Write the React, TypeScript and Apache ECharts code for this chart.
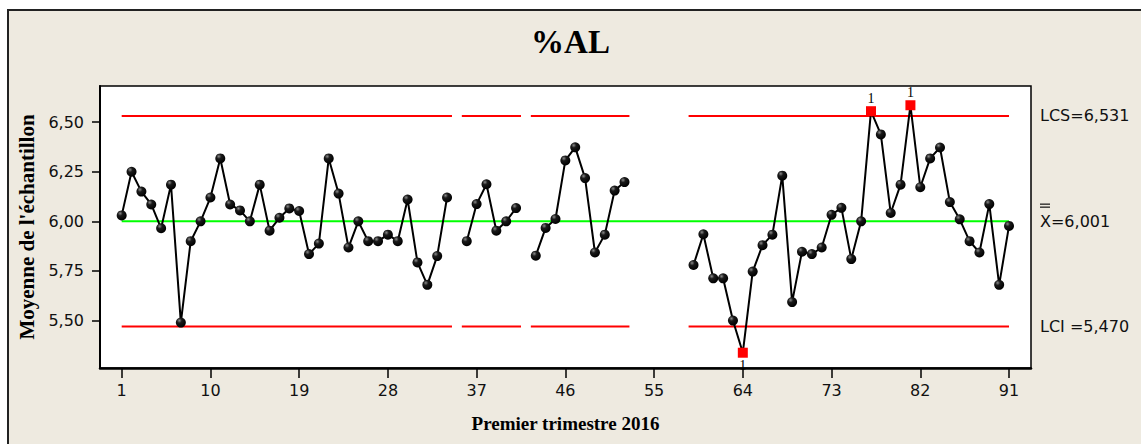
import React, { useEffect, useRef } from "react";
import * as echarts from "echarts";

// Sample numbers (x) and subgroup means (y); null = missing sample
const sampleNumbers: number[] = [
  1, 2, 3, 4, 5, 6, 7, 8, 9, 10, 11, 12, 13, 14, 15, 16, 17, 18, 19, 20,
  21, 22, 23, 24, 25, 26, 27, 28, 29, 30, 31, 32, 33, 34, 35, 36, 37, 38, 39, 40,
  41, 42, 43, 44, 45, 46, 47, 48, 49, 50, 51, 52, 53, 54, 55, 56, 57, 58, 59, 60,
  61, 62, 63, 64, 65, 66, 67, 68, 69, 70, 71, 72, 73, 74, 75, 76, 77, 78, 79, 80,
  81, 82, 83, 84, 85, 86, 87, 88, 89, 90, 91,
];
const sampleMeans: (number | null)[] = [
  6.03, 6.25, 6.15, 6.085, 5.965, 6.185, 5.49, 5.9, 6.0, 6.12,
  6.317, 6.085, 6.055, 6.0, 6.185, 5.953, 6.018, 6.065, 6.052, 5.835,
  5.888, 6.317, 6.14, 5.868, 6.0, 5.9, 5.9, 5.933, 5.9, 6.11,
  5.793, 5.68, 5.825, 6.12, null, 5.9, 6.087, 6.187, 5.953, 6.0,
  6.067, null, 5.827, 5.967, 6.012, 6.307, 6.373, 6.218, 5.843, 5.933,
  6.155, 6.198, null, null, null, null, null, null, 5.78, 5.935,
  5.713, 5.713, 5.5, 5.338, 5.747, 5.88, 5.933, 6.23, 5.593, 5.847,
  5.835, 5.868, 6.033, 6.068, 5.81, 6.0, 6.555, 6.438, 6.042, 6.185,
  6.585, 6.172, 6.317, 6.372, 6.097, 6.01, 5.9, 5.843, 6.087, 5.68,
  5.977,
];
const UCL = 6.531;
const CENTER = 6.001;
const LCL = 5.47;
const xTickValues: number[] = [1, 10, 19, 28, 37, 46, 55, 64, 73, 82, 91];
const yTickValues: number[] = [5.5, 5.75, 6.0, 6.25, 6.5];

const TITLE = "%AL";
const X_TITLE = "Premier trimestre 2016";
const Y_TITLE = "Moyenne de l'échantillon";

const fmt = (v: number, d: number) => v.toFixed(d).replace(".", ",");

export default function App() {
  const ref = useRef<HTMLDivElement>(null);

  useEffect(() => {
    document.body.style.margin = "0";
    if (!ref.current) return;
    const chart = echarts.init(ref.current, undefined, { renderer: "svg" });

    const first = sampleNumbers[0];
    const last = sampleNumbers[sampleNumbers.length - 1];

    // Runs of consecutive non-missing samples -> control limit segments
    const runs: [number, number][] = [];
    let start: number | null = null;
    sampleNumbers.forEach((n, i) => {
      const v = sampleMeans[i];
      if (v !== null && start === null) start = n;
      if (v === null && start !== null) {
        runs.push([start, sampleNumbers[i - 1]]);
        start = null;
      }
    });
    if (start !== null) runs.push([start, last]);

    const limitData = (level: number) => {
      const out: any[] = [];
      runs.forEach(([a, b], k) => {
        out.push([Math.max(first, a - 0.5), level]);
        out.push([Math.min(last, b + 0.5), level]);
        if (k < runs.length - 1) out.push([b + 0.7, "-"]);
      });
      return out;
    };

    const dot = new echarts.graphic.RadialGradient(0.35, 0.3, 0.7, [
      { offset: 0, color: "#8a8a8a" },
      { offset: 0.35, color: "#1a1a1a" },
      { offset: 1, color: "#000000" },
    ]);

    const flagLabel = {
      fontFamily: "Liberation Serif",
      fontSize: 14,
      color: "#000",
    };

    const meanData = sampleNumbers.map((n, i) => {
      const v = sampleMeans[i];
      if (v === null) return [n, "-"];
      if (v > UCL || v < LCL) {
        return {
          value: [n, v],
          symbol: "rect",
          symbolSize: 10,
          itemStyle: { color: "#ff0000" },
          label: {
            show: true,
            formatter: "1",
            position: v > UCL ? "top" : "bottom",
            distance: 1,
            ...flagLabel,
          },
        };
      }
      return [n, v];
    });

    const gridLeft = 100;
    const gridTop = 86;
    const gridWidth = 931;
    const gridHeight = 282;

    const option: any = {
      animation: false,
      backgroundColor: "transparent",
      title: {
        text: TITLE,
        left: gridLeft + gridWidth / 2,
        textAlign: "center",
        top: 20,
        textStyle: {
          fontFamily: "Liberation Serif",
          fontWeight: "bold",
          fontSize: 33,
          color: "#000",
        },
      },
      grid: {
        left: gridLeft,
        top: gridTop,
        width: gridWidth,
        height: gridHeight,
        show: true,
        backgroundColor: "#ffffff",
        borderColor: "#000",
        borderWidth: 1.5,
        containLabel: false,
      },
      xAxis: {
        type: "value",
        min: -1.2,
        max: 93.23,
        name: X_TITLE,
        nameLocation: "middle",
        nameGap: 46,
        nameTextStyle: {
          fontFamily: "Liberation Serif",
          fontWeight: "bold",
          fontSize: 19,
          color: "#000",
        },
        axisLine: { show: true, onZero: false, lineStyle: { color: "#000", width: 2.5 } },
        axisTick: {
          show: true,
          length: 10,
          customValues: xTickValues,
          lineStyle: { color: "#000", width: 1.5 },
        },
        axisLabel: {
          customValues: xTickValues,
          margin: 14,
          fontFamily: "DejaVu Sans",
          fontSize: 16,
          color: "#111",
          formatter: (v: number) => String(v),
        },
        splitLine: { show: false },
      },
      yAxis: {
        type: "value",
        min: 5.261,
        max: 6.682,
        name: Y_TITLE,
        nameLocation: "middle",
        nameGap: 60,
        nameRotate: 90,
        nameTextStyle: {
          fontFamily: "Liberation Serif",
          fontWeight: "bold",
          fontSize: 21,
          color: "#000",
        },
        axisLine: { show: true, onZero: false, lineStyle: { color: "#000", width: 2 } },
        axisTick: {
          show: true,
          length: 8,
          customValues: yTickValues,
          lineStyle: { color: "#000", width: 1.5 },
        },
        axisLabel: {
          customValues: yTickValues,
          margin: 16,
          fontFamily: "DejaVu Sans",
          fontSize: 16,
          color: "#111",
          formatter: (v: number) => fmt(v, 2),
        },
        splitLine: { show: false },
      },
      series: [
        {
          name: "LCS",
          type: "line",
          data: limitData(UCL),
          symbol: "none",
          silent: true,
          connectNulls: false,
          lineStyle: { color: "#ff0000", width: 2 },
          z: 1,
        },
        {
          name: "LCI",
          type: "line",
          data: limitData(LCL),
          symbol: "none",
          silent: true,
          connectNulls: false,
          lineStyle: { color: "#ff0000", width: 2 },
          z: 1,
        },
        {
          name: "Moyenne",
          type: "line",
          data: [
            [first, CENTER],
            [last, CENTER],
          ],
          symbol: "none",
          silent: true,
          lineStyle: { color: "#00ff00", width: 2 },
          z: 1,
        },
        {
          name: "Moyennes",
          type: "line",
          data: meanData,
          connectNulls: false,
          symbol: "circle",
          symbolSize: 10,
          showAllSymbol: true,
          lineStyle: { color: "#000", width: 2 },
          itemStyle: { color: dot },
          label: { show: false, ...flagLabel },
          z: 3,
        },
      ],
    };

    chart.setOption(option);

    const lx = gridLeft + gridWidth + 9;
    const yU = chart.convertToPixel({ yAxisIndex: 0 }, UCL) as number;
    const yC = chart.convertToPixel({ yAxisIndex: 0 }, CENTER) as number;
    const yL = chart.convertToPixel({ yAxisIndex: 0 }, LCL) as number;
    const txt = (t: string, y: number) => ({
      type: "text",
      x: lx,
      y,
      style: {
        text: t,
        fontFamily: "DejaVu Sans",
        fontSize: 16,
        fill: "#111",
        align: "left",
        verticalAlign: "middle",
      },
    });
    chart.setOption({
      graphic: [
        txt("LCS=" + fmt(UCL, 3), yU),
        txt("X=" + fmt(CENTER, 3), yC),
        txt("LCI =" + fmt(LCL, 3), yL),
        {
          type: "line",
          shape: { x1: lx, y1: yC - 17, x2: lx + 10, y2: yC - 17 },
          style: { stroke: "#111", lineWidth: 1.2 },
        },
        {
          type: "line",
          shape: { x1: lx, y1: yC - 14, x2: lx + 10, y2: yC - 14 },
          style: { stroke: "#111", lineWidth: 1.2 },
        },
      ],
    });

    return () => chart.dispose();
  }, []);

  return (
    <div style={{ position: "relative", width: 1141, height: 444, overflow: "hidden", background: "#ffffff" }}>
      <div
        style={{
          position: "absolute",
          left: 7,
          top: 9,
          width: 1200,
          height: 500,
          background: "#eeeae0",
          border: "2px solid #222",
        }}
      />
      <div ref={ref} style={{ position: "absolute", left: 0, top: 0, width: 1141, height: 444 }} />
    </div>
  );
}
